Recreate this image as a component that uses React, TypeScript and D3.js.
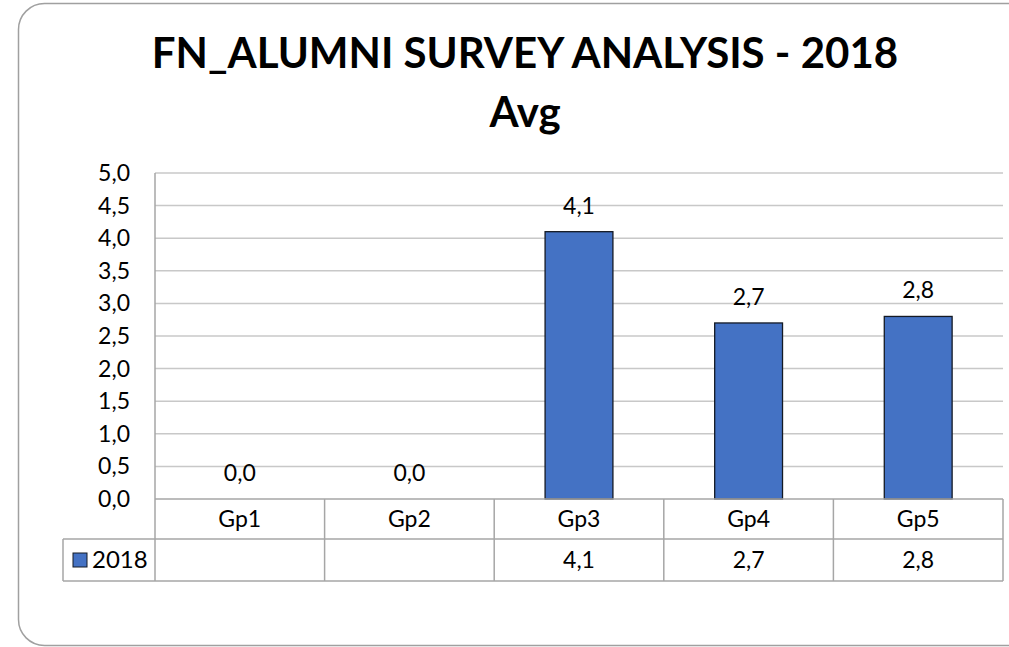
import React, { useRef, useEffect } from 'react';
import * as d3 from 'd3';

const categories = ['Gp1', 'Gp2', 'Gp3', 'Gp4', 'Gp5'];
const values2018: (number | null)[] = [null, null, 4.1, 2.7, 2.8];
const yTicks = [0, 0.5, 1, 1.5, 2, 2.5, 3, 3.5, 4, 4.5, 5];
const seriesName = '2018';
const titleLines = ['FN_ALUMNI SURVEY ANALYSIS - 2018', 'Avg'];

const fmt = (v: number) => d3.format('.1f')(v).replace('.', ',');

const App = () => {
  const svgRef = useRef<SVGSVGElement>(null);

  useEffect(() => {
    const svg = d3.select(svgRef.current);
    svg.selectAll('*').remove();

    const W = 1009, H = 647;
    const font = 'Lato, "Open Sans", sans-serif';
    const fs = 23;
    const plot = { left: 155, right: 1003, top: 173, bottom: 499 };
    const rowH1 = 40, rowH2 = 42, legendLeft = 63;

    svg.append('rect').attr('width', W).attr('height', H).attr('fill', '#fff');

    // outer frame (rounded, right side runs past the window)
    svg.append('rect')
      .attr('x', 18.5).attr('y', 3.5)
      .attr('width', 1100).attr('height', 642)
      .attr('rx', 26)
      .attr('fill', 'none').attr('stroke', '#a0a0a0').attr('stroke-width', 1.5);

    // title
    svg.append('text')
      .attr('x', 525).attr('y', 68)
      .attr('text-anchor', 'middle')
      .attr('font-family', font).attr('font-weight', 'bold').attr('font-size', 42)
      .attr('fill', '#000')
      .text(titleLines[0]);
    svg.append('text')
      .attr('x', 525).attr('y', 127)
      .attr('text-anchor', 'middle')
      .attr('font-family', font).attr('font-weight', 'bold').attr('font-size', 42)
      .attr('fill', '#000')
      .text(titleLines[1]);

    const x = d3.scaleBand<string>()
      .domain(categories)
      .range([plot.left, plot.right])
      .paddingInner(0)
      .paddingOuter(0);

    const y = d3.scaleLinear().domain([0, 5]).range([plot.bottom, plot.top]);

    // gridlines
    svg.append('g')
      .selectAll('line')
      .data(yTicks.filter(t => t > 0))
      .enter().append('line')
      .attr('x1', plot.left).attr('x2', plot.right)
      .attr('y1', d => y(d)).attr('y2', d => y(d))
      .attr('stroke', '#c8c8c8').attr('stroke-width', 1.5);

    // y tick labels
    svg.append('g')
      .selectAll('text')
      .data(yTicks)
      .enter().append('text')
      .attr('x', 130).attr('y', d => y(d))
      .attr('dy', '0.35em')
      .attr('text-anchor', 'end')
      .attr('font-family', font).attr('font-size', fs)
      .attr('fill', '#000')
      .text(d => fmt(d));

    // bars
    const barW = x.bandwidth() * 0.4;
    const data = categories.map((c, i) => ({ cat: c, v: values2018[i] }));

    svg.append('g')
      .selectAll('rect')
      .data(data.filter(d => d.v != null && d.v > 0))
      .enter().append('rect')
      .attr('x', d => (x(d.cat) as number) + (x.bandwidth() - barW) / 2)
      .attr('y', d => y(d.v as number))
      .attr('width', barW)
      .attr('height', d => plot.bottom - y(d.v as number))
      .attr('fill', '#4472C4')
      .attr('stroke', '#141a24').attr('stroke-width', 1.3);

    // data labels
    svg.append('g')
      .selectAll('text')
      .data(data)
      .enter().append('text')
      .attr('x', d => (x(d.cat) as number) + x.bandwidth() / 2)
      .attr('y', d => y(d.v ?? 0) - 18)
      .attr('text-anchor', 'middle')
      .attr('font-family', font).attr('font-size', fs)
      .attr('fill', '#000')
      .text(d => fmt(d.v ?? 0));

    // data table
    const tbl = svg.append('g').attr('fill', 'none').attr('stroke', '#a6a6a6').attr('stroke-width', 1.5);
    const r1 = plot.bottom, r2 = plot.bottom + rowH1, r3 = plot.bottom + rowH1 + rowH2;
    tbl.append('line').attr('x1', plot.left).attr('x2', plot.right).attr('y1', r1).attr('y2', r1);
    tbl.append('line').attr('x1', legendLeft).attr('x2', plot.right).attr('y1', r2).attr('y2', r2);
    tbl.append('line').attr('x1', legendLeft).attr('x2', plot.right).attr('y1', r3).attr('y2', r3);
    tbl.append('line').attr('x1', legendLeft).attr('x2', legendLeft).attr('y1', r2).attr('y2', r3);
    tbl.append('line').attr('x1', plot.left).attr('x2', plot.left).attr('y1', plot.top).attr('y2', r3);
    tbl.selectAll('line.col')
      .data(categories)
      .enter().append('line')
      .attr('class', 'col')
      .attr('x1', d => (x(d) as number) + x.bandwidth())
      .attr('x2', d => (x(d) as number) + x.bandwidth())
      .attr('y1', r1).attr('y2', r3);

    svg.append('g')
      .selectAll('text')
      .data(categories)
      .enter().append('text')
      .attr('x', d => (x(d) as number) + x.bandwidth() / 2)
      .attr('y', (r1 + r2) / 2)
      .attr('dy', '0.35em')
      .attr('text-anchor', 'middle')
      .attr('font-family', font).attr('font-size', fs)
      .attr('fill', '#000')
      .text(d => d);

    svg.append('g')
      .selectAll('text')
      .data(data.filter(d => d.v != null))
      .enter().append('text')
      .attr('x', d => (x(d.cat) as number) + x.bandwidth() / 2)
      .attr('y', (r2 + r3) / 2)
      .attr('dy', '0.35em')
      .attr('text-anchor', 'middle')
      .attr('font-family', font).attr('font-size', fs)
      .attr('fill', '#000')
      .text(d => fmt(d.v as number));

    // legend key
    svg.append('rect')
      .attr('x', 73).attr('y', (r2 + r3) / 2 - 7)
      .attr('width', 14).attr('height', 14)
      .attr('fill', '#4472C4').attr('stroke', '#141a24').attr('stroke-width', 1);
    svg.append('text')
      .attr('x', 92).attr('y', (r2 + r3) / 2)
      .attr('dy', '0.35em')
      .attr('font-family', font).attr('font-size', 24)
      .attr('fill', '#000')
      .text(seriesName);
  }, []);

  return (
    <svg
      ref={svgRef}
      width={1009}
      height={647}
      style={{ position: 'fixed', left: 0, top: 0, display: 'block' }}
    />
  );
};

export default App;
